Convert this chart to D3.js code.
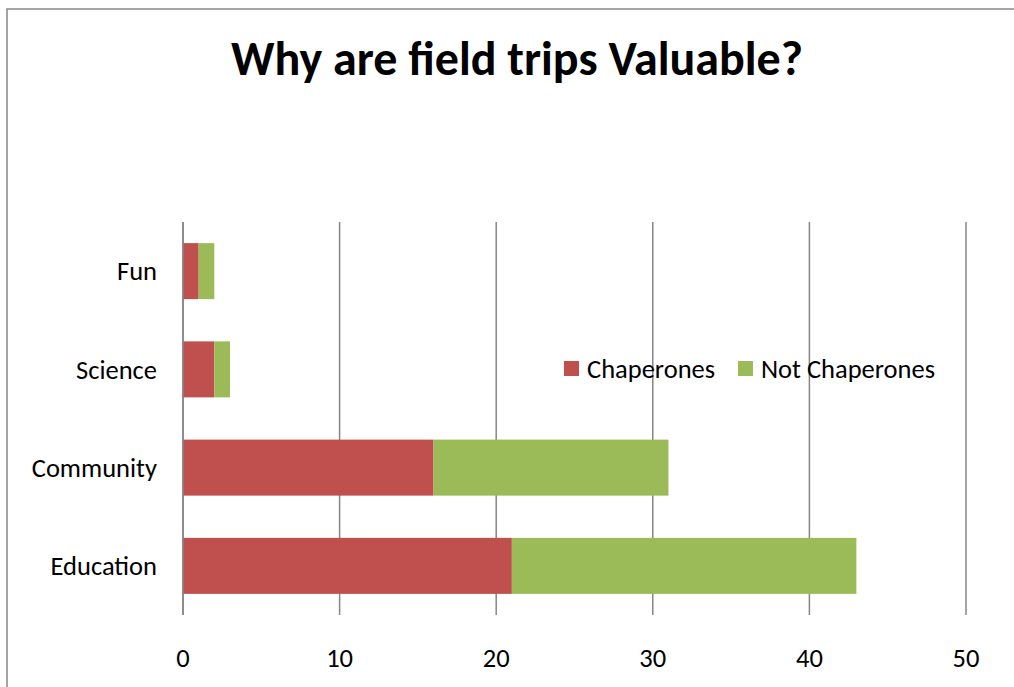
<!DOCTYPE html>
<html>
<head>
<meta charset="utf-8">
<script src="https://cdn.jsdelivr.net/npm/d3@7"></script>
<style>
  body { margin: 0; background: #fff; }
  text { font-family: Carlito, Lato, "Open Sans", sans-serif; fill: #000; }
</style>
</head>
<body>
<div id="chart"></div>
<script>
// data
var categories = ["Fun", "Science", "Community", "Education"]
var chaperones = [1, 2, 16, 21]
var notChaperones = [1, 1, 15, 22]
var seriesNames = ["Chaperones", "Not Chaperones"]
var seriesColors = ["#C0504D", "#9BBB59"]
var xTicks = [0, 10, 20, 30, 40, 50]

var width = 1014, height = 687

var svg = d3.select("#chart").append("svg")
  .attr("width", width)
  .attr("height", height)

// chart frame
svg.append("rect")
  .attr("x", 7).attr("y", 9)
  .attr("width", 1030).attr("height", 700)
  .attr("fill", "none")
  .attr("stroke", "#888")
  .attr("stroke-width", 1.5)

svg.append("text")
  .attr("x", 517).attr("y", 75)
  .attr("text-anchor", "middle")
  .style("font-size", "48px")
  .style("font-weight", "bold")
  .text("Why are field trips Valuable?")

var x = d3.scaleLinear().domain([0, 50]).range([183, 966])
var y = d3.scaleBand().domain(categories).range([222, 615]).paddingInner(0.43).paddingOuter(0.215)

// gridlines
svg.append("g")
  .selectAll("line")
  .data(xTicks)
  .enter().append("line")
  .attr("x1", function(d) { return x(d) })
  .attr("x2", function(d) { return x(d) })
  .attr("y1", 222)
  .attr("y2", 615)
  .attr("stroke", "#868686")
  .attr("stroke-width", 1.5)

// stacked rows
var rows = categories.map(function(c, i) {
  return { cat: c, Chaperones: chaperones[i], "Not Chaperones": notChaperones[i] }
})
var stack = d3.stack().keys(seriesNames)(rows)

svg.append("g")
  .selectAll("g")
  .data(stack)
  .enter().append("g")
  .attr("fill", function(d, i) { return seriesColors[i] })
  .selectAll("rect")
  .data(function(d) { return d })
  .enter().append("rect")
  .attr("x", function(d) { return x(d[0]) })
  .attr("width", function(d) { return x(d[1]) - x(d[0]) })
  .attr("y", function(d) { return y(d.data.cat) })
  .attr("height", y.bandwidth())

// axis line on top of bars
svg.append("line")
  .attr("x1", x(0)).attr("x2", x(0))
  .attr("y1", 222).attr("y2", 615)
  .attr("stroke", "#868686")
  .attr("stroke-width", 1.5)

// category labels
svg.append("g")
  .selectAll("text")
  .data(categories)
  .enter().append("text")
  .attr("x", 157)
  .attr("y", function(d) { return y(d) + y.bandwidth() / 2 })
  .attr("dy", "0.35em")
  .attr("text-anchor", "end")
  .style("font-size", "26.5px")
  .text(function(d) { return d })

// tick labels
svg.append("g")
  .selectAll("text")
  .data(xTicks)
  .enter().append("text")
  .attr("x", function(d) { return x(d) })
  .attr("y", 658)
  .attr("dy", "0.35em")
  .attr("text-anchor", "middle")
  .style("font-size", "26.5px")
  .text(function(d) { return d })

// legend
var legendX = [564, 738]
var legend = svg.append("g")
  .selectAll("g")
  .data(seriesNames)
  .enter().append("g")
  .attr("transform", function(d, i) { return "translate(" + legendX[i] + ",361)" })

legend.append("rect")
  .attr("width", 15).attr("height", 15)
  .attr("fill", function(d, i) { return seriesColors[i] })

legend.append("text")
  .attr("x", 23).attr("y", 8)
  .attr("dy", "0.35em")
  .style("font-size", "26.5px")
  .text(function(d) { return d })
</script>
</body>
</html>
